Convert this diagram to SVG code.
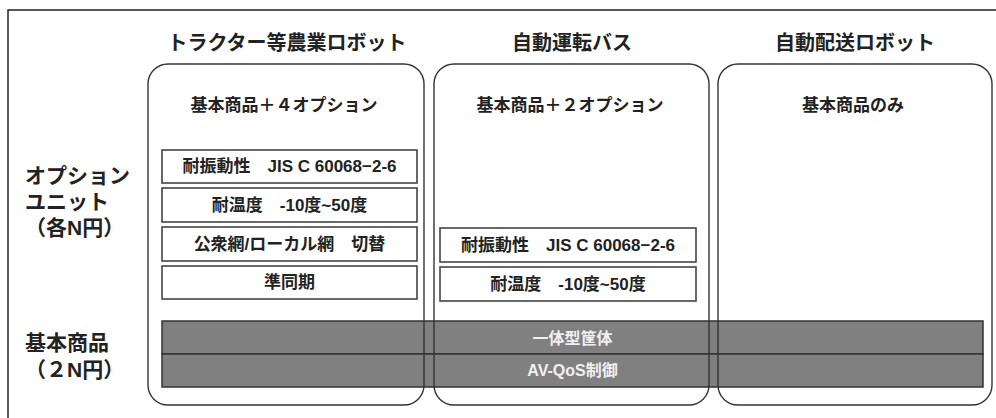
<svg xmlns="http://www.w3.org/2000/svg" width="996" height="418" viewBox="0 0 996 418">
<style>
text{font-family:"Liberation Sans","Noto Sans CJK JP",sans-serif;font-weight:bold;fill:#222;text-anchor:middle;dominant-baseline:central}
.hdr{font-size:20px}
.sub{font-size:17px}
.opt{font-size:17px}
.side{font-size:21px;text-anchor:start}
.base{fill:#808080;stroke:#333;stroke-width:1.5}
.btxt{fill:#f0f0f0;font-size:16px}
.col{fill:none;stroke:#333;stroke-width:1.4}
.box{fill:#fff;stroke:#444;stroke-width:1.6}
</style>
<rect x="8" y="10" width="1000" height="420" fill="none" stroke="#222" stroke-width="1.5"/>
<g id="labels">
<text class="side" x="25" y="175">オプション</text>
<text class="side" x="25" y="201">ユニット</text>
<text class="side" x="25" y="227">（各N円）</text>
<text class="side" x="25" y="342">基本商品</text>
<text class="side" x="25" y="369">（２N円）</text>
</g>
<g id="base">
<rect class="base" x="162" y="321" width="821" height="33"/>
<rect class="base" x="162" y="354" width="821" height="33"/>
<text class="btxt" x="572.5" y="338">一体型筐体</text>
<text class="btxt" x="572.5" y="370">AV-QoS制御</text>
</g>
<g id="col1">
<text class="hdr" x="287" y="43">トラクター等農業ロボット</text>
<rect class="col" x="148" y="64" width="276" height="341" rx="20"/>
<text class="sub" x="284" y="105">基本商品＋４オプション</text>
<rect class="box" x="162" y="150" width="255" height="33"/>
<text class="opt" x="289.5" y="166.5">耐振動性　JIS C 60068−2-6</text>
<rect class="box" x="162" y="188" width="255" height="34"/>
<text class="opt" x="289.5" y="205">耐温度　-10度~50度</text>
<rect class="box" x="162" y="227" width="255" height="34"/>
<text class="opt" x="289.5" y="244">公衆網/ローカル網　切替</text>
<rect class="box" x="162" y="266" width="255" height="33"/>
<text class="opt" x="289.5" y="282.5">準同期</text>
</g>
<g id="col2">
<text class="hdr" x="572" y="43">自動運転バス</text>
<rect class="col" x="434" y="64" width="275" height="341" rx="20"/>
<text class="sub" x="570" y="105">基本商品＋２オプション</text>
<rect class="box" x="440" y="228" width="256" height="34"/>
<text class="opt" x="568" y="245">耐振動性　JIS C 60068−2-6</text>
<rect class="box" x="440" y="267" width="256" height="34"/>
<text class="opt" x="568" y="284">耐温度　-10度~50度</text>
</g>
<g id="col3">
<text class="hdr" x="855" y="43">自動配送ロボット</text>
<rect class="col" x="718" y="64" width="274" height="341" rx="20"/>
<text class="sub" x="853" y="105">基本商品のみ</text>
</g>
<g id="connectors"/>
</svg>
